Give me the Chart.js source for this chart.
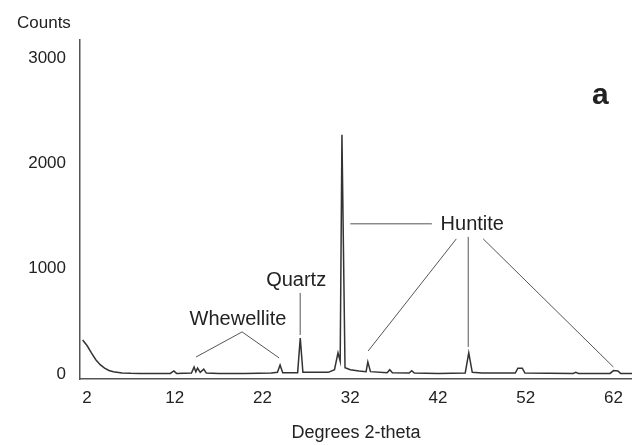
<!DOCTYPE html>
<html lang="en">
<head>
  <meta charset="UTF-8" />
  <title>XRD pattern a</title>
  <script src="https://cdn.jsdelivr.net/npm/chart.js"></script>
  <style>
    body {
      margin: 0;
      background: #fff;
    }
    #wrap {
      width: 632px;
      height: 445px;
    }
  </style>
</head>
<body>
  <div id="wrap"><canvas id="xrd" width="632" height="445"></canvas></div>

  <script>
    // Pattern (degrees 2-theta, counts)
    const twoTheta = [1.5, 2.0, 2.5, 3.0, 3.5, 4.0, 4.5, 5.0, 6.0, 7.0, 8.0, 10.0,
      11.5, 11.9, 12.2, 13.9, 14.2, 14.4, 14.6, 14.9, 15.3, 15.6, 17.0, 20.0,
      23.0, 23.7, 24.0, 24.3, 26.0, 26.3, 26.6, 29.5, 30.2, 30.6, 30.85, 31.05,
      31.4, 32.0, 33.0, 33.8, 34.0, 34.3, 36.2, 36.5, 36.8, 38.7, 39.0, 39.3,
      42.0, 45.1, 45.5, 45.9, 47.0, 50.8, 51.1, 51.6, 51.9, 57.4, 57.7, 58.0,
      61.6, 62.0, 62.5, 62.8, 64.1];
    const counts = [323, 270, 200, 135, 88, 55, 33, 20, 10, 6, 4, 4,
      5, 28, 5, 8, 65, 20, 55, 15, 45, 8, 5, 5,
      8, 15, 85, 12, 12, 340, 15, 15, 40, 200, 120, 2270,
      60, 40, 28, 22, 115, 22, 12, 40, 12, 8, 30, 8,
      5, 10, 200, 15, 8, 8, 55, 55, 8, 5, 15, 5,
      5, 32, 28, 5, 5];

    const xTicks = [2, 12, 22, 32, 42, 52, 62];
    const yTicks = [0, 1000, 2000, 3000];

    // Phase labels with their leader lines, in data units
    const phaseLabels = [
      { text: "Whewellite", x: 19.2, y: 513 },
      { text: "Quartz", x: 25.83, y: 884 },
      { text: "Huntite", x: 45.9, y: 1415 }
    ];
    const leaderLines = [
      [[14.43, 161], [19.67, 399], [23.89, 152]],
      [[26.29, 769], [26.29, 370]],
      [[32.0, 1425], [41.3, 1425]],
      [[44.08, 1282], [34.04, 218]],
      [[45.44, 1301], [45.44, 256]],
      [[47.15, 1282], [61.98, 66]]
    ];

    const ink = "#222";
    const fontFamily = "'Liberation Sans', Arial, sans-serif";
    Chart.defaults.font.family = fontFamily;
    Chart.defaults.color = ink;

    const labelsPlugin = {
      id: "labels",
      afterDraw(chart) {
        const { ctx, scales: { x, y }, chartArea } = chart;
        ctx.save();
        ctx.strokeStyle = "#555";
        ctx.lineWidth = 1;
        leaderLines.forEach(pts => {
          ctx.beginPath();
          pts.forEach(([px, py], i) => {
            const cx = x.getPixelForValue(px), cy = y.getPixelForValue(py);
            if (i === 0) ctx.moveTo(cx, cy); else ctx.lineTo(cx, cy);
          });
          ctx.stroke();
        });

        ctx.fillStyle = ink;
        ctx.textAlign = "center";
        ctx.textBaseline = "middle";
        ctx.font = "20px " + fontFamily;
        phaseLabels.forEach(l => {
          ctx.fillText(l.text, x.getPixelForValue(l.x), y.getPixelForValue(l.y));
        });

        // panel letter
        ctx.font = "bold 30px " + fontFamily;
        ctx.fillText("a", x.getPixelForValue(60.5), y.getPixelForValue(2640));

        // y axis caption sits above the axis
        ctx.font = "17px " + fontFamily;
        ctx.textAlign = "left";
        ctx.fillText("Counts", chartArea.left - 63, chartArea.top - 17);
        ctx.restore();
      }
    };

    new Chart(document.getElementById("xrd"), {
      type: "line",
      data: {
        datasets: [{
          data: twoTheta.map((t, i) => ({ x: t, y: counts[i] })),
          borderColor: "#333",
          borderWidth: 1.5,
          pointRadius: 0,
          tension: 0,
          fill: false
        }]
      },
      options: {
        responsive: false,
        animation: false,
        layout: { padding: { top: 40, right: 0, left: 0, bottom: 0 } },
        plugins: {
          legend: { display: false },
          tooltip: { enabled: false }
        },
        scales: {
          x: {
            type: "linear",
            min: 1.2,
            max: 64.1,
            grid: { display: false, drawTicks: false },
            border: { color: "#555", width: 1.5 },
            afterBuildTicks: s => { s.ticks = xTicks.map(v => ({ value: v })); },
            afterFit: s => { s.height = 66; },
            ticks: { font: { size: 17 }, padding: 9, maxRotation: 0, autoSkip: false, callback: v => String(v) },
            title: {
              display: true,
              text: "Degrees 2-theta",
              font: { size: 18 },
              padding: { top: 0, bottom: 1 }
            }
          },
          y: {
            min: -48,
            max: 3170,
            grid: { display: false, drawTicks: false },
            border: { color: "#555", width: 1.5 },
            afterBuildTicks: s => { s.ticks = yTicks.map(v => ({ value: v })); },
            afterFit: s => { s.width = 80; },
            ticks: { font: { size: 17 }, padding: 14, callback: v => String(v) }
          }
        }
      },
      plugins: [labelsPlugin]
    });
  </script>
</body>
</html>
